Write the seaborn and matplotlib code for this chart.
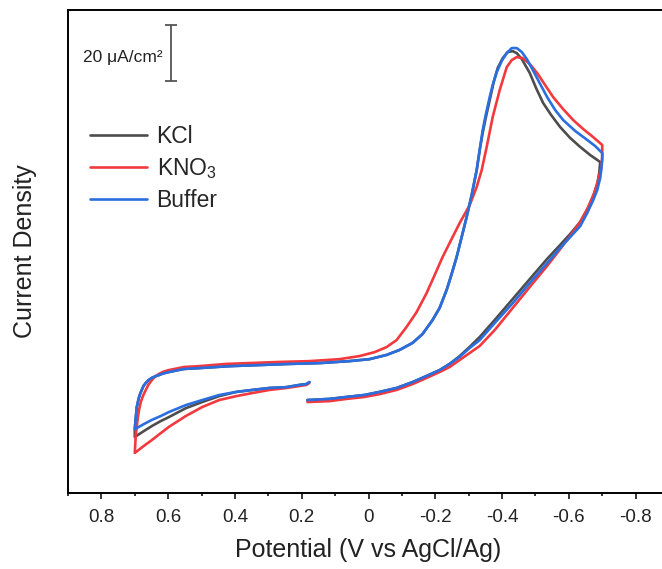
import numpy as np
import pandas as pd
import matplotlib
matplotlib.use("Agg")
import matplotlib.pyplot as plt
import seaborn as sns

# ---------------- data (Potential in V, current density in uA/cm2, arbitrary offset) -------------
# Buffer
buf_v = [0.183, 0.117, 0.066, 0.012, -0.033, -0.084, -0.132, -0.174, -0.213, -0.243, -0.273, -0.303,
         -0.333, -0.378, -0.432, -0.483, -0.535, -0.574, -0.604, -0.634, -0.655, -0.673, -0.685, -0.694,
         -0.697, -0.700, -0.700,
         -0.679, -0.655, -0.619, -0.583, -0.559, -0.535, -0.514, -0.492, -0.474, -0.459, -0.444, -0.429,
         -0.414, -0.399, -0.384, -0.372, -0.363, -0.351, -0.342, -0.333, -0.324, -0.309, -0.294, -0.279,
         -0.264, -0.249, -0.234, -0.213, -0.192, -0.162, -0.132, -0.093, -0.054, -0.003, 0.057, 0.147,
         0.237, 0.327, 0.417, 0.508, 0.553, 0.598, 0.615, 0.628, 0.640, 0.649, 0.659, 0.667, 0.674,
         0.679, 0.684, 0.688, 0.694, 0.697, 0.700,
         0.673, 0.649, 0.622, 0.598, 0.547, 0.498, 0.447, 0.396, 0.348, 0.297, 0.246, 0.207, 0.186, 0.177]
buf_i = [0.0, 0.4, 1.1, 1.8, 2.9, 4.3, 6.4, 8.6, 10.7, 12.9, 15.4, 18.6,
         21.4, 27.5, 34.6, 41.8, 48.9, 54.3, 58.2, 62.1, 66.8, 71.4, 75.0, 79.3,
         82.1, 85.7, 88.2,
         90.7, 92.9, 96.1, 100.0, 103.6, 108.2, 112.9, 117.9, 121.8, 124.3, 125.7, 125.7,
         123.9, 121.1, 117.1, 112.5, 108.2, 101.8, 96.4, 89.3, 82.1, 73.2, 65.4, 58.2,
         51.1, 45.0, 39.3, 32.9, 28.6, 23.6, 20.4, 17.9, 16.1, 14.6, 13.9, 13.2,
         12.9, 12.5, 12.1, 11.4, 11.1, 10.0, 9.5, 8.9, 8.4, 7.9, 7.1, 6.1, 5.0,
         3.6, 2.2, 0.7, -2.5, -6.4, -10.4,
         -8.6, -7.1, -5.7, -4.3, -1.8, 0.0, 1.8, 2.9, 3.6, 4.3, 4.6, 5.4, 5.7, 6.4]

# KCl
kcl_v = [0.183, 0.117, 0.066, 0.012, -0.033, -0.084, -0.132, -0.174, -0.213, -0.243, -0.273, -0.303,
         -0.333, -0.378, -0.432, -0.483, -0.535, -0.574, -0.604, -0.634, -0.655, -0.673, -0.685, -0.691,
         -0.694,
         -0.664, -0.634, -0.604, -0.574, -0.547, -0.523, -0.502, -0.483, -0.459, -0.444, -0.432, -0.417,
         -0.402, -0.387, -0.375, -0.363, -0.351, -0.342, -0.333, -0.324, -0.309, -0.294, -0.279,
         -0.264, -0.249, -0.234, -0.213, -0.192, -0.162, -0.132, -0.093, -0.054, -0.003, 0.057, 0.147,
         0.237, 0.327, 0.417, 0.508, 0.553, 0.598, 0.615, 0.628, 0.640, 0.649, 0.659, 0.667, 0.674,
         0.679, 0.684, 0.688, 0.694, 0.697, 0.700, 0.700,
         0.673, 0.649, 0.622, 0.598, 0.547, 0.498, 0.447, 0.396, 0.348, 0.297, 0.246, 0.207, 0.186, 0.177]
kcl_i = [0.0, 0.4, 1.1, 1.8, 2.9, 4.3, 6.4, 8.6, 10.7, 12.9, 15.7, 19.0,
         22.5, 28.6, 36.1, 43.2, 50.4, 55.4, 59.3, 63.6, 67.9, 72.9, 77.1, 81.1,
         85.0,
         87.5, 90.4, 93.6, 97.5, 101.8, 106.1, 111.4, 116.8, 121.8, 123.9, 124.6, 124.3,
         122.1, 118.6, 113.6, 107.1, 100.7, 95.4, 89.3, 82.1, 73.2, 65.4, 58.2,
         51.1, 45.0, 39.3, 32.9, 28.6, 23.6, 20.4, 17.9, 16.1, 14.6, 13.9, 13.2,
         12.9, 12.5, 12.1, 11.4, 11.1, 10.0, 9.5, 8.9, 8.4, 7.9, 7.1, 6.1, 5.0,
         3.6, 2.2, 0.7, -2.5, -6.4, -10.4, -13.2,
         -11.1, -9.3, -7.5, -6.1, -2.9, -0.7, 1.4, 2.9, 3.6, 4.3, 4.6, 5.4, 5.7, 6.4]

# KNO3
kno_v = [0.183, 0.117, 0.066, 0.012, -0.033, -0.084, -0.132, -0.174, -0.213, -0.243, -0.273, -0.303,
         -0.333, -0.378, -0.432, -0.483, -0.535, -0.574, -0.604, -0.634, -0.658, -0.676, -0.688, -0.697,
         -0.700, -0.700,
         -0.673, -0.643, -0.613, -0.583, -0.553, -0.529, -0.505, -0.483, -0.462, -0.444, -0.429, -0.414,
         -0.393, -0.372, -0.354, -0.339, -0.324, -0.303, -0.273, -0.243, -0.222, -0.198, -0.174, -0.144,
         -0.114, -0.084, -0.054, -0.018, 0.027, 0.087, 0.177, 0.267, 0.357, 0.426, 0.508, 0.553, 0.598,
         0.615, 0.628, 0.640, 0.649, 0.659, 0.667, 0.675, 0.682, 0.687, 0.691, 0.697, 0.700,
         0.673, 0.649, 0.622, 0.598, 0.547, 0.498, 0.447, 0.396, 0.348, 0.297, 0.246, 0.207, 0.186, 0.177]
kno_i = [-0.7, -0.4, 0.4, 1.1, 2.1, 3.6, 5.7, 7.9, 10.0, 11.8, 14.3, 16.8,
         19.3, 25.0, 32.9, 40.4, 47.9, 53.9, 58.6, 63.6, 68.9, 73.9, 78.6, 82.9,
         87.0, 91.1,
         93.9, 96.8, 100.0, 103.9, 108.2, 112.5, 116.8, 120.0, 122.1, 122.5, 121.4, 118.9,
         110.7, 101.1, 90.4, 82.1, 76.1, 69.6, 63.2, 56.1, 51.1, 44.6, 38.2, 31.4,
         26.1, 21.4, 18.9, 17.1, 15.7, 14.6, 13.9, 13.6, 13.2, 12.9, 12.1, 11.8, 10.7,
         10.1, 9.3, 8.3, 7.1, 5.5, 3.6, 1.6, -0.7, -3.4, -6.4, -12.5, -18.9,
         -16.4, -14.3, -11.8, -9.6, -5.7, -2.5, 0.0, 1.4, 2.5, 3.6, 4.3, 5.0, 5.4, 6.1]

series_names = ["KCl", "KNO$_3$", "Buffer"]
series_colors = ["#4d4d4d", "#f2393d", "#2a6ee0"]
x_ticks = [0.8, 0.6, 0.4, 0.2, 0.0, -0.2, -0.4, -0.6, -0.8]
x_tick_labels = ["0.8", "0.6", "0.4", "0.2", "0", "-0.2", "-0.4", "-0.6", "-0.8"]
scale_bar_value = 20  # uA/cm2

# ---------------- build frame ----------------
frames = []
for name, v, i in zip(series_names, [kcl_v, kno_v, buf_v], [kcl_i, kno_i, buf_i]):
    frames.append(pd.DataFrame({"Potential": v, "Current": i, "Electrolyte": name,
                                "step": np.arange(len(v))}))
df = pd.concat(frames, ignore_index=True)

sns.set_theme(style="ticks")
plt.rcParams["font.family"] = ["Liberation Sans", "DejaVu Sans"]
plt.rcParams["mathtext.fontset"] = "custom"
plt.rcParams["mathtext.rm"] = "Liberation Sans"
plt.rcParams["mathtext.it"] = "Liberation Sans:italic"

fig = plt.figure(figsize=(6.62, 5.69), dpi=100)
ax = fig.add_axes([68 / 662, (569 - 493) / 569, 601 / 662, (493 - 10) / 569])

sns.lineplot(data=df, x="Potential", y="Current", hue="Electrolyte", units="Electrolyte",
             estimator=None, sort=False, palette=dict(zip(series_names, series_colors)),
             hue_order=series_names, linewidth=1.9, ax=ax, legend=True)
for ln in ax.lines:
    ln.set_solid_joinstyle("round")
    ln.set_solid_capstyle("round")

ax.set_xlim(0.9, -0.9)
ax.set_ylim(-33.2, 139.3)
ax.set_xticks(x_ticks)
ax.set_xticklabels(x_tick_labels)
ax.set_xticks([0.9, 0.7, 0.5, 0.3, 0.1, -0.1, -0.3, -0.5, -0.7, -0.9], minor=True)
ax.set_yticks([])
ax.tick_params(axis="x", which="major", direction="out", length=4.5, width=1.1,
               labelsize=13.5, pad=7, color="black", labelcolor="#222222")
ax.tick_params(axis="x", which="minor", direction="out", length=2.5, width=1.1, color="black")
for s in ["left", "bottom", "top", "right"]:
    ax.spines[s].set_linewidth(1.4)
    ax.spines[s].set_color("black")
ax.set_xlabel("Potential (V vs AgCl/Ag)", fontsize=18, labelpad=9, color="#222222")
ax.set_ylabel("Current Density", fontsize=18, labelpad=22, color="#222222")

# scale bar
ax.errorbar([0.592], [123.9], yerr=[scale_bar_value / 2], color="#555555", capsize=4.5,
            elinewidth=1.3, capthick=1.3, fmt="none")
ax.text(0.618, 122.5, "20 μA/cm²", ha="right", va="center", fontsize=12.5, color="#222222")

handles, labels = ax.get_legend_handles_labels()
ax.legend(handles, labels, loc="upper left", bbox_to_anchor=(0.01, 0.795), frameon=False,
          fontsize=16.5, handlelength=2.5, handletextpad=0.4, labelspacing=0.35,
          borderaxespad=0.3)

fig.savefig("out.png", dpi=100)
